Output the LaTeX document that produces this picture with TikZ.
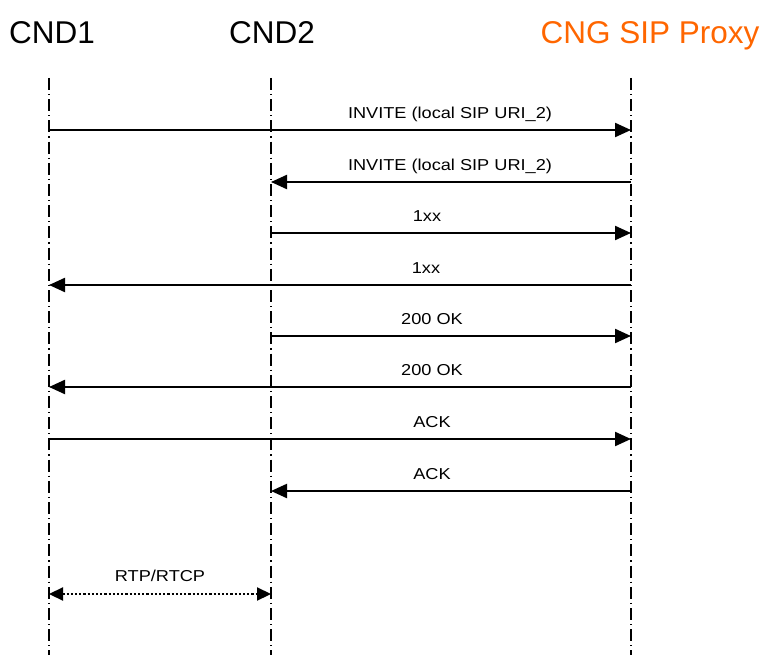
\documentclass[tikz,border=0pt]{standalone}
\usepackage{fontspec}
\setmainfont{Liberation Sans}
\newfontfamily\lblfont[FakeStretch=1.15]{Liberation Sans}
\usetikzlibrary{arrows.meta}
\definecolor{cngorange}{RGB}{255,102,0}
\tikzset{
  header/.style={inner sep=0pt, anchor=base, font=\fontsize{31.5}{36}\selectfont},
  msglabel/.style={inner sep=0pt, anchor=base, font=\lblfont\fontsize{15.8}{18}\selectfont},
  lifeline/.style={line width=1.4pt, dash pattern=on 12pt off 4pt on 1.2pt off 4pt},
  msg/.style={line width=2.2pt, -{Triangle[length=16pt,width=14pt]}},
  media/.style={line width=2.2pt, dotted, {Triangle[length=14pt,width=13pt]}-{Triangle[length=14pt,width=13pt]}},
}
\begin{document}
\begin{tikzpicture}[x=1pt,y=-1pt]
\useasboundingbox (0,0) rectangle (763,655);
% headers
\node[header] (h1) at (52,44) {CND1};
\node[header] (h2) at (272,44) {CND2};
\node[header, text=cngorange] (h3) at (650,44) {CNG SIP Proxy};
% lifelines
\coordinate (A) at (49,78);
\coordinate (B) at (271,78);
\coordinate (C) at (631,78);
\coordinate (Ab) at (49,655);
\coordinate (Bb) at (271,655);
\coordinate (Cb) at (631,655);
\draw[lifeline] (A) -- (Ab);
\draw[lifeline] (B) -- (Bb);
\draw[lifeline] (C) -- (Cb);
% message rows
\coordinate (r1) at (0,130);
\coordinate (r2) at (0,182);
\coordinate (r3) at (0,233);
\coordinate (r4) at (0,285);
\coordinate (r5) at (0,336);
\coordinate (r6) at (0,387);
\coordinate (r7) at (0,439);
\coordinate (r8) at (0,491);
\coordinate (r9) at (0,594);
\draw[msg] (A |- r1) -- (C |- r1);
\draw[msg] (C |- r2) -- (B |- r2);
\draw[msg] (B |- r3) -- (C |- r3);
\draw[msg] (C |- r4) -- (A |- r4);
\draw[msg] (B |- r5) -- (C |- r5);
\draw[msg] (C |- r6) -- (A |- r6);
\draw[msg] (A |- r7) -- (C |- r7);
\draw[msg] (C |- r8) -- (B |- r8);
\draw[media] (A |- r9) -- (B |- r9);
% labels
\node[msglabel] (l1) at (450,118.5) {INVITE (local SIP URI\_2)};
\node[msglabel] (l2) at (450,170.5) {INVITE (local SIP URI\_2)};
\node[msglabel] (l3) at (427,221.5) {1xx};
\node[msglabel] (l4) at (426,273.5) {1xx};
\node[msglabel] (l5) at (432,324.5) {200 OK};
\node[msglabel] (l6) at (432,375.5) {200 OK};
\node[msglabel] (l7) at (432,427.5) {ACK};
\node[msglabel] (l8) at (432,479.5) {ACK};
\node[msglabel] (l9) at (160,581.5) {RTP/RTCP};
\end{tikzpicture}
\end{document}
